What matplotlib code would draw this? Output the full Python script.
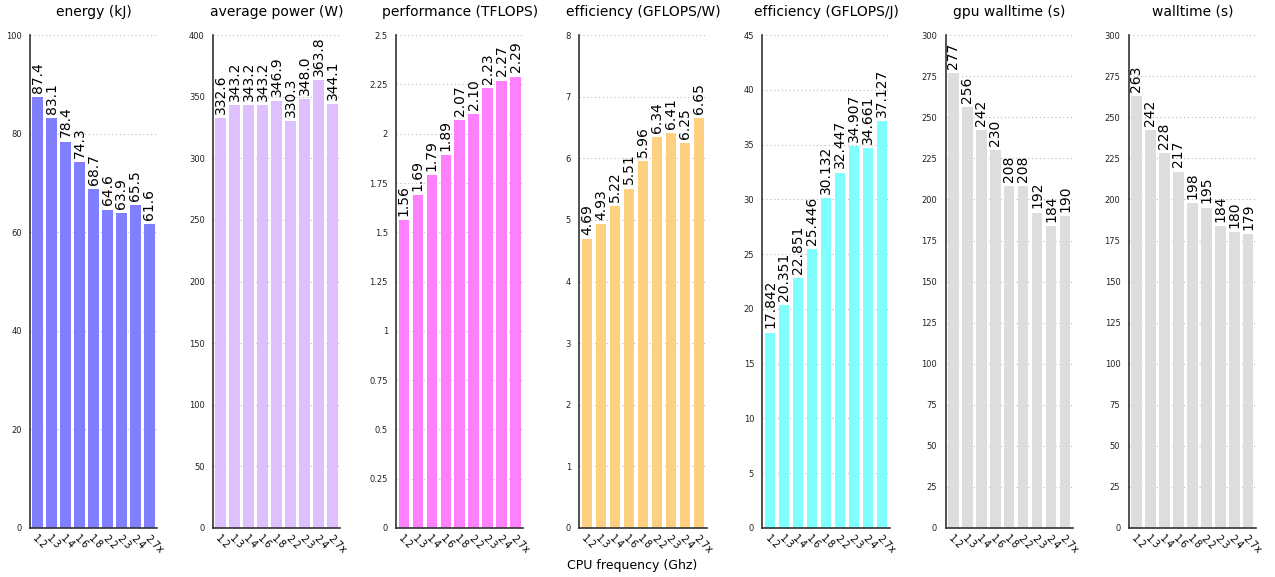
import matplotlib
matplotlib.use("Agg")
import matplotlib.pyplot as plt
from matplotlib.ticker import MultipleLocator, FuncFormatter

freq_labels = ["1.2", "1.3", "1.4", "1.6", "1.8", "2.2", "2.3", "2.4", "2.7x"]

energy_kj = [87.4, 83.1, 78.4, 74.3, 68.7, 64.6, 63.9, 65.5, 61.6]
avg_power_w = [332.6, 343.2, 343.2, 343.2, 346.9, 330.3, 348.0, 363.8, 344.1]
perf_tflops = [1.56, 1.69, 1.79, 1.89, 2.07, 2.10, 2.23, 2.27, 2.29]
eff_gflops_w = [4.69, 4.93, 5.22, 5.51, 5.96, 6.34, 6.41, 6.25, 6.65]
eff_gflops_j = [17.842, 20.351, 22.851, 25.446, 30.132, 32.447, 34.907, 34.661, 37.127]
gpu_walltime_s = [277, 256, 242, 230, 208, 208, 192, 184, 190]
walltime_s = [263, 242, 228, 217, 198, 195, 184, 180, 179]

panels = [
    ("energy (kJ)", energy_kj, "#8080ff", "{:.1f}", 100, 20),
    ("average power (W)", avg_power_w, "#dfc0ff", "{:.1f}", 400, 50),
    ("performance (TFLOPS)", perf_tflops, "#ff80ff", "{:.2f}", 2.5, 0.25),
    ("efficiency (GFLOPS/W)", eff_gflops_w, "#ffd080", "{:.2f}", 8, 1),
    ("efficiency (GFLOPS/J)", eff_gflops_j, "#80ffff", "{:.3f}", 45, 5),
    ("gpu walltime (s)", gpu_walltime_s, "#dddddd", "{:.0f}", 300, 25),
    ("walltime (s)", walltime_s, "#dddddd", "{:.0f}", 300, 25),
]

fig, axes = plt.subplots(1, len(panels), figsize=(12.75, 5.77), dpi=100)
fig.subplots_adjust(left=0.0235, right=0.985, top=0.939, bottom=0.085, wspace=0.44)

xs = list(range(len(freq_labels)))
for ax, (title, vals, color, fmt, ymax, step) in zip(axes, panels):
    ax.bar(xs, vals, width=0.76, color=color, zorder=2)
    ax.set_xlim(-0.55, len(xs) - 0.45)
    ax.set_ylim(0, ymax)
    ax.yaxis.set_major_locator(MultipleLocator(step))
    ax.yaxis.set_major_formatter(FuncFormatter(lambda v, p: f"{v:g}"))
    ax.grid(axis="y", linestyle=(0, (1, 2.5)), color="#bbbbbb", linewidth=0.8, zorder=0)
    ax.set_axisbelow(True)
    for s in ("top", "right"):
        ax.spines[s].set_visible(False)
    for s in ("left", "bottom"):
        ax.spines[s].set_color("#333333")
        ax.spines[s].set_linewidth(1.2)
    ax.tick_params(axis="y", length=0, labelsize=6, pad=6, colors="#222222")
    ax.tick_params(axis="x", length=0, labelsize=7, pad=4)
    ax.set_xticks(xs)
    ax.set_xticklabels(freq_labels, rotation=-45, ha="left", va="top",
                       rotation_mode="anchor")
    ax.set_title(title, fontsize=10, pad=14)
    for x, v in zip(xs, vals):
        ax.annotate(fmt.format(v), (x, v), xytext=(0, 3), textcoords="offset points",
                    rotation=90, ha="center", va="bottom", fontsize=10)

fig.text(0.496, 0.02, "CPU frequency (Ghz)", ha="center", va="center", fontsize=9)

fig.savefig("out.png", dpi=100)
